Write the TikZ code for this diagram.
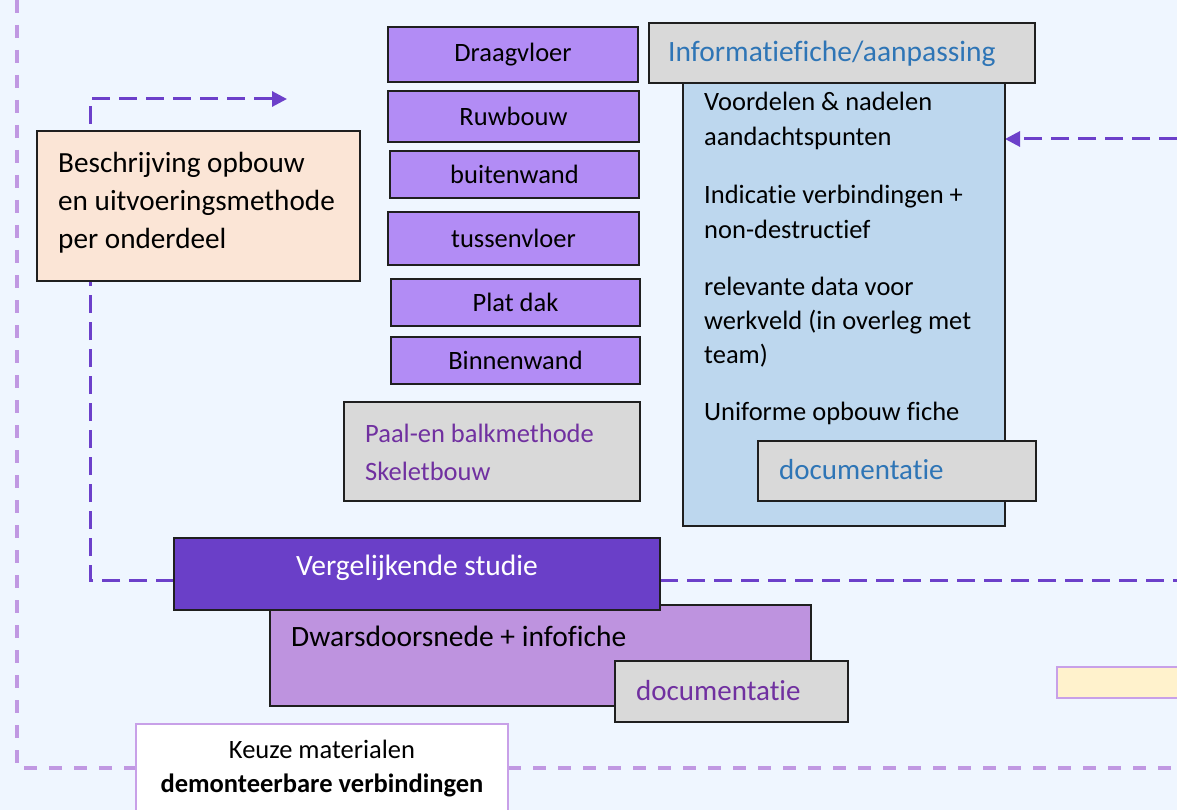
\documentclass[tikz,border=0pt]{standalone}
\usepackage{fontspec}
\setmainfont{Carlito}[Ligatures=NoCommon]
\usetikzlibrary{arrows.meta}

\definecolor{pagebg}{RGB}{239,246,255}
\definecolor{outerline}{RGB}{192,152,226}
\definecolor{innerline}{RGB}{108,64,202}
\definecolor{peach}{RGB}{251,229,214}
\definecolor{lavender}{RGB}{178,140,245}
\definecolor{panelgrey}{RGB}{217,217,217}
\definecolor{skyblue}{RGB}{189,215,238}
\definecolor{headblue}{RGB}{46,117,182}
\definecolor{plum}{RGB}{112,48,160}
\definecolor{violet}{RGB}{106,63,200}
\definecolor{lilac}{RGB}{190,147,223}
\definecolor{cream}{RGB}{255,242,204}
\definecolor{softedge}{RGB}{200,160,232}

\newcommand\setfs[2]{\fontsize{#1}{#2}\selectfont}

\tikzset{
  box/.style={draw=black!88, line width=1.6pt, anchor=north west,
    inner sep=0pt, outer sep=0pt},
  partbox/.style={box, fill=lavender, font=\setfs{26.5}{30}},
  greybox/.style={box, fill=panelgrey},
  txt/.style={inner sep=0pt, anchor=west, align=left},
  outerdash/.style={draw=outerline, line width=3.5pt, dash pattern=on 13pt off 12pt},
  innerdash/.style={draw=innerline, line width=3pt, dash pattern=on 18pt off 9pt},
  tip/.style={-{Triangle[length=15pt,width=15pt]}}
}

\begin{document}
\begin{tikzpicture}[x=1pt,y=-1pt]
\useasboundingbox (0,0) rectangle (1177,810);
\fill[pagebg] (0,0) rectangle (1177,810);

% guide points for the dashed routes
\coordinate (outertop) at (17,0);
\coordinate (outercorner) at (17,768);
\coordinate (outerend) at (1177,768);
\coordinate (turnlow) at (90,580);
\coordinate (turnhigh) at (90,99);
\coordinate (tiptop) at (287,99);
\coordinate (rightend) at (1177,580);
\coordinate (rightin) at (1177,139);

% boxes that the dashed routes attach to
\path
  node[box, fill=white, draw=softedge, line width=1.5pt, minimum width=372pt, minimum height=100pt] (keuze) at (136,724) {}
  node[box, fill=peach, minimum width=323pt, minimum height=150pt] (beschr) at (37,131) {}
  node[box, fill=lilac, minimum width=541pt, minimum height=101pt] (dwars) at (270,605) {}
  node[box, fill=violet, minimum width=486pt, minimum height=72pt] (verg) at (174,538) {}
  node[box, fill=skyblue, minimum width=322pt, minimum height=443pt] (info) at (683,83) {};

% dashed routes
\draw[outerdash] (outertop) -- (outercorner) -- (keuze.west |- outercorner);
\draw[outerdash] (keuze.east |- outercorner) -- (outerend);
\draw[innerdash, tip] (verg.west |- turnlow) -- (turnlow) -- (turnhigh) -- (tiptop);
\draw[innerdash] (verg.east |- turnlow) -- (rightend);
\draw[innerdash, tip] (rightin) -- (info.east |- rightin);

% boxes on top of the lines
\node[box, fill=white, draw=softedge, line width=1.5pt, minimum width=372pt, minimum height=100pt] (keuzeB) at (136,724) {};
\node[box, fill=peach, minimum width=323pt, minimum height=150pt] (beschrB) at (37,131) {};
\node[box, fill=skyblue, minimum width=322pt, minimum height=443pt] (infoB) at (683,83) {};
\node[greybox, minimum width=386pt, minimum height=60pt] (infohead) at (649,23) {};
\node[greybox, minimum width=278pt, minimum height=60pt] (docblue) at (758,441) {};
\node[box, fill=lilac, minimum width=541pt, minimum height=101pt] (dwarsB) at (270,605) {};
\node[box, fill=violet, minimum width=486pt, minimum height=72pt] (vergB) at (174,538) {};
\node[greybox, minimum width=233pt, minimum height=61pt] (docpurple) at (615,661) {};
\node[box, fill=cream, draw=softedge, line width=2pt, minimum width=140pt, minimum height=31pt] (cream) at (1057,667) {};

% building parts
\node[partbox, minimum width=250pt, minimum height=55pt] (draag) at (388,27) {Draagvloer};
\node[partbox, minimum width=251pt, minimum height=51pt] (ruw) at (388,91) {Ruwbouw};
\node[partbox, minimum width=249pt, minimum height=47pt] (buiten) at (390,151) {buitenwand};
\node[partbox, minimum width=251pt, minimum height=53pt] (tussen) at (388,212) {tussenvloer};
\node[partbox, minimum width=249pt, minimum height=47pt] (plat) at (391,279) {Plat dak};
\node[partbox, minimum width=249pt, minimum height=47pt] (binnen) at (391,337) {Binnenwand};
\node[greybox, minimum width=296pt, minimum height=99pt] (paal) at (344,402) {};

% texts
\node[txt, font=\setfs{29.2}{38}] (beschrT) at (58,203)
  {Beschrijving opbouw\\en uitvoeringsmethode\\per onderdeel};
\node[txt, font=\setfs{26.5}{38}, text=plum] (paalT) at (365,452)
  {Paal-en balkmethode\\Skeletbouw};
\node[txt, font=\setfs{29.5}{32}, text=headblue] (infoheadT) at (668,54)
  {Informatiefiche/aanpassing};
\node[txt, font=\setfs{26.5}{35.5}] (p1) at (704,121)
  {Voordelen \& nadelen\\aandachtspunten};
\node[txt, font=\setfs{26.5}{35.5}] (p2) at (704,212)
  {Indicatie verbindingen +\\non-destructief};
\node[txt, font=\setfs{26.5}{34}] (p3) at (704,322)
  {relevante data voor\\werkveld (in overleg met\\team)};
\node[txt, font=\setfs{26.5}{34}] (p4) at (704,413)
  {Uniforme opbouw fiche};
\node[txt, font=\setfs{29}{32}, text=headblue] (docblueT) at (779,470)
  {documentatie};
\node[font=\setfs{29.5}{32}, text=white, inner sep=0pt] (vergT) at (417,568)
  {Vergelijkende studie};
\node[txt, font=\setfs{29.5}{32}] (dwarsT) at (291,636)
  {Dwarsdoorsnede + infofiche};
\node[txt, font=\setfs{29}{32}, text=plum] (docpurpleT) at (636,691)
  {documentatie};
\node[font=\setfs{26.5}{34}, align=center, inner sep=0pt] (keuzeT) at (322,769)
  {Keuze materialen\\\textbf{demonteerbare verbindingen}};
\end{tikzpicture}
\end{document}
